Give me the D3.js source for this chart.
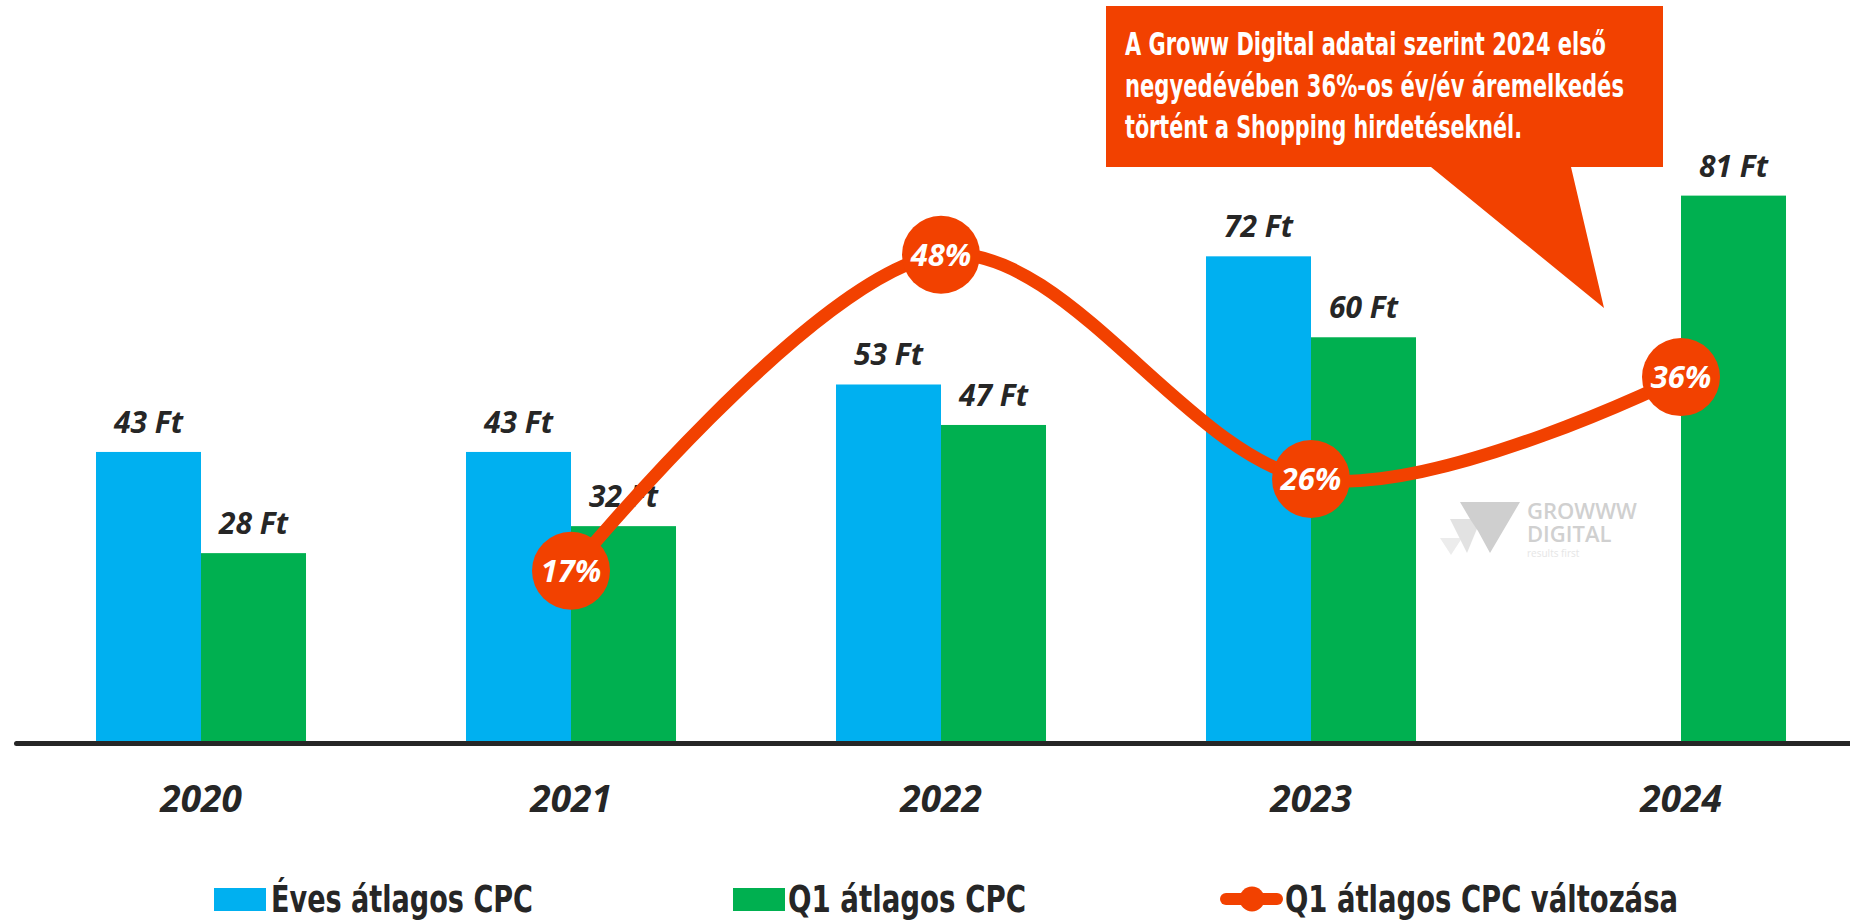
<!DOCTYPE html>
<html>
<head>
<meta charset="utf-8">
<script src="https://cdn.jsdelivr.net/npm/d3@7"></script>
<style>
  body { margin: 0; background: #fff; }
  svg { display: block; }
  .num { font-family: "Open Sans", "Noto Sans", sans-serif; font-weight: 700; font-style: italic; }
  .narrow { font-family: "Liberation Sans Narrow", "DejaVu Sans Condensed", "Roboto Condensed", sans-serif; font-weight: 700; }
</style>
</head>
<body>
<div id="chart-container"></div>
<script>
// chart data
const years = ['2020', '2021', '2022', '2023', '2024'];
const annualCpc = [43, 43, 53, 72, null];
const q1Cpc = [28, 32, 47, 60, 81];
const q1Change = [null, 0.17, 0.48, 0.26, 0.36];
const seriesNames = ['Éves átlagos CPC', 'Q1 átlagos CPC', 'Q1 átlagos CPC változása'];
const calloutLines = [
    'A Groww Digital adatai szerint 2024 első',
    'negyedévében 36%-os év/év áremelkedés',
    'történt a Shopping hirdetéseknél.'
];

const width = 1850, height = 923;
const colors = { annual: '#00B0F0', q1: '#00B050', change: '#F24100', text: '#262626' };

const svg = d3.select('#chart-container')
    .append('svg')
    .attr('width', width)
    .attr('height', height);

// scales
const x = d3.scaleBand()
    .domain(years)
    .range([16, 1866])
    .paddingInner(0.4324)
    .paddingOuter(0.2162);

const x1 = d3.scaleBand()
    .domain(['annual', 'q1'])
    .range([0, x.bandwidth()]);

const y = d3.scaleLinear().domain([0, 110]).range([742, 0]);
const y2 = d3.scaleLinear().domain([0, 0.73]).range([744, 0]);

const rows = years.map((yr, i) => ({ year: yr, annual: annualCpc[i], q1: q1Cpc[i], change: q1Change[i] }));

// watermark (logo)
const wm = svg.append('g');
wm.append('polygon').attr('points', '1440,538 1462,538 1451,555').attr('fill', '#ececec');
wm.append('polygon').attr('points', '1450,519 1481,519 1467,553').attr('fill', '#e2e2e2');
wm.append('polygon').attr('points', '1460,502 1520,502 1490,553 1478,531 1470,519').attr('fill', '#cfcfcf');
wm.append('text').attr('x', 1527).attr('y', 519).text('GROWWW')
    .attr('font-family', 'Open Sans, sans-serif').attr('font-size', 22).attr('font-weight', 600).attr('fill', '#d0d0d0');
wm.append('text').attr('x', 1527).attr('y', 542).text('DIGITAL')
    .attr('font-family', 'Open Sans, sans-serif').attr('font-size', 22).attr('font-weight', 600).attr('fill', '#d0d0d0');
wm.append('text').attr('x', 1527).attr('y', 557).text('results first')
    .attr('font-family', 'Open Sans, sans-serif').attr('font-size', 10).attr('fill', '#e6e6e6');

// bars
const groups = svg.append('g')
    .selectAll('g')
    .data(rows)
    .join('g')
    .attr('transform', d => `translate(${x(d.year)},0)`);

['annual', 'q1'].forEach(key => {
    groups.filter(d => d[key] != null)
        .append('rect')
        .attr('x', x1(key))
        .attr('width', x1.bandwidth())
        .attr('y', d => y(d[key]))
        .attr('height', d => y(0) - y(d[key]))
        .attr('fill', colors[key]);

    groups.filter(d => d[key] != null)
        .append('text')
        .attr('class', 'num')
        .attr('x', x1(key) + x1.bandwidth() / 2)
        .attr('y', d => y(d[key]) - 19)
        .attr('text-anchor', 'middle')
        .attr('font-size', 30)
        .attr('fill', colors.text)
        .text(d => `${d[key]} Ft`);
});

// x axis
const xAxis = g => g
    .attr('transform', `translate(0,743)`)
    .call(d3.axisBottom(x).tickSize(0).tickSizeOuter(0))
    .call(g => g.select('.domain')
        .attr('stroke', colors.text)
        .attr('stroke-width', 5)
        .attr('stroke-linecap', 'round'))
    .call(g => g.selectAll('.tick text')
        .attr('class', 'num')
        .attr('y', 69)
        .attr('dy', null)
        .attr('font-size', 37)
        .attr('fill', colors.text));

svg.append('g').call(xAxis);

// change line
const pts = rows.filter(d => d.change != null);
const cx = d => x(d.year) + x.bandwidth() / 2;

const line = d3.line()
    .x(cx)
    .y(d => y2(d.change))
    .curve(d3.curveCardinal.tension(0));

svg.append('path')
    .datum(pts)
    .attr('d', line)
    .attr('fill', 'none')
    .attr('stroke', colors.change)
    .attr('stroke-width', 13)
    .attr('stroke-linecap', 'round');

const markers = svg.append('g')
    .selectAll('g')
    .data(pts)
    .join('g')
    .attr('transform', d => `translate(${cx(d)},${y2(d.change)})`);

markers.append('circle').attr('r', 39).attr('fill', colors.change);
markers.append('text')
    .attr('class', 'num')
    .attr('text-anchor', 'middle')
    .attr('dy', '0.36em')
    .attr('font-size', 31)
    .attr('fill', '#fff')
    .text(d => d3.format('.0%')(d.change));

// callout
const callout = svg.append('g');
callout.append('path')
    .attr('d', 'M1106,6 H1663 V167 H1571 L1604,308 L1431,167 H1106 Z')
    .attr('fill', colors.change);

const calloutWidths = [481, 499, 397];
callout.selectAll('text')
    .data(calloutLines)
    .join('text')
    .attr('class', 'narrow')
    .attr('x', 1125)
    .attr('y', (d, i) => 55 + i * 41.5)
    .attr('font-size', 32)
    .attr('fill', '#fff')
    .attr('textLength', (d, i) => calloutWidths[i])
    .attr('lengthAdjust', 'spacingAndGlyphs')
    .text(d => d);

// legend
const legend = svg.append('g');
const legendText = [
    { x: 271, w: 262 },
    { x: 788, w: 238 },
    { x: 1285, w: 393 }
];

legend.append('rect').attr('x', 214).attr('y', 888).attr('width', 52).attr('height', 23).attr('fill', colors.annual);
legend.append('rect').attr('x', 733).attr('y', 888).attr('width', 52).attr('height', 23).attr('fill', colors.q1);
legend.append('line').attr('x1', 1226).attr('x2', 1277).attr('y1', 899).attr('y2', 899)
    .attr('stroke', colors.change).attr('stroke-width', 12).attr('stroke-linecap', 'round');
legend.append('circle').attr('cx', 1252).attr('cy', 899).attr('r', 12.5).attr('fill', colors.change);

legend.selectAll('text')
    .data(seriesNames)
    .join('text')
    .attr('class', 'narrow')
    .attr('x', (d, i) => legendText[i].x)
    .attr('y', 912)
    .attr('font-size', 38)
    .attr('fill', colors.text)
    .attr('textLength', (d, i) => legendText[i].w)
    .attr('lengthAdjust', 'spacingAndGlyphs')
    .text(d => d);
</script>
</body>
</html>
